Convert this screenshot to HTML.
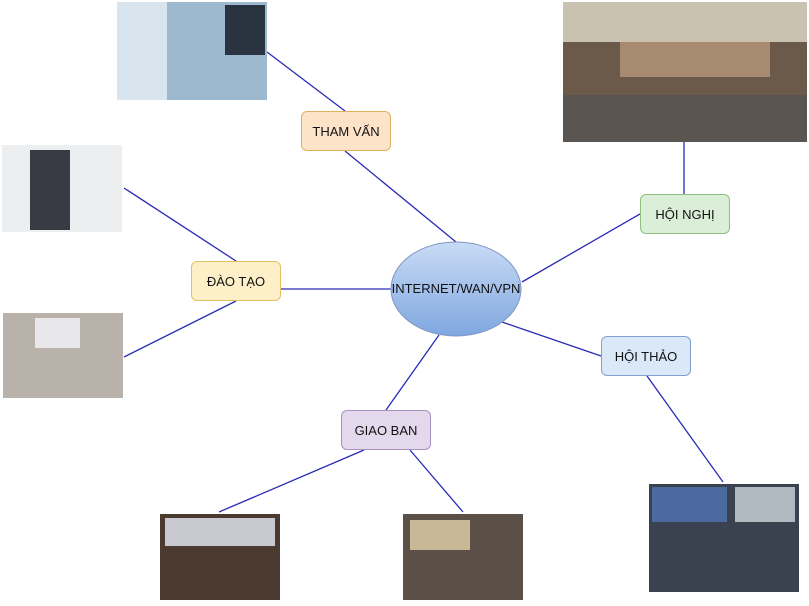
<!DOCTYPE html>
<html><head><meta charset="utf-8"><style>
body{margin:0;width:809px;height:606px;background:#fff;overflow:hidden;position:relative;font-family:"Liberation Sans",sans-serif}
.b{position:absolute;width:88px;height:38px;border-radius:6px;display:flex;align-items:center;justify-content:center;font-size:13px;color:#111}
</style></head><body>
<svg width="809" height="606" style="position:absolute;left:0;top:0">
<defs><linearGradient id="g" x1="0" y1="0" x2="0" y2="1"><stop offset="0" stop-color="#c9dbf5"/><stop offset="1" stop-color="#7fa7e0"/></linearGradient></defs>
<g stroke="#2a2ab8" stroke-width="1.3">
<line x1="267" y1="52" x2="345" y2="111"/><line x1="345" y1="151" x2="456" y2="242"/>
<line x1="684" y1="142" x2="684" y2="194"/><line x1="640" y1="214" x2="522" y2="282"/>
<line x1="124" y1="188" x2="236" y2="261"/><line x1="281" y1="289" x2="391" y2="289"/>
<line x1="124" y1="357" x2="236" y2="301"/><line x1="502" y1="322" x2="601" y2="356"/>
<line x1="647" y1="376" x2="723" y2="482"/><line x1="439" y1="335" x2="386" y2="410"/>
<line x1="364" y1="450" x2="219" y2="512"/><line x1="410" y1="450" x2="463" y2="512"/>
</g>
<ellipse cx="456" cy="289" rx="65" ry="47" fill="url(#g)" stroke="#7f95c0"/>
<text x="456" y="293" text-anchor="middle" font-size="13" font-family="Liberation Sans" fill="#111">INTERNET/WAN/VPN</text>
<rect x="117" y="2" width="150" height="98" fill="#9cb9d0"/><rect x="117" y="2" width="50" height="98" fill="#d8e4ee"/><rect x="225" y="5" width="40" height="50" fill="#2a3440"/>
<rect x="563" y="2" width="244" height="140" fill="#6b5a4a"/><rect x="563" y="2" width="244" height="40" fill="#c9c2b0"/><rect x="620" y="42" width="150" height="35" fill="#a88a70"/><rect x="563" y="95" width="244" height="47" fill="#5a5550"/>
<rect x="2" y="145" width="120" height="87" fill="#eceef0"/><rect x="30" y="150" width="40" height="80" fill="#3a3a44"/>
<rect x="3" y="313" width="120" height="85" fill="#b8b2aa"/><rect x="35" y="318" width="45" height="30" fill="#e8e8ea"/>
<rect x="160" y="514" width="120" height="86" fill="#4a3a30"/><rect x="165" y="518" width="110" height="28" fill="#c8c8d0"/>
<rect x="403" y="514" width="120" height="86" fill="#5a5048"/><rect x="410" y="520" width="60" height="30" fill="#c8b896"/>
<rect x="649" y="484" width="150" height="108" fill="#3a4250"/><rect x="652" y="487" width="75" height="35" fill="#4a6aa0"/><rect x="735" y="487" width="60" height="35" fill="#b0b8c0"/>
</svg>
<div class="b" style="left:301px;top:111px;background:#fde3c8;border:1px solid #e0b060">THAM VẤN</div>
<div class="b" style="left:640px;top:194px;background:#dbefd8;border:1px solid #90c080">HỘI NGHỊ</div>
<div class="b" style="left:191px;top:261px;background:#fdf0c8;border:1px solid #e0c060">ĐÀO TẠO</div>
<div class="b" style="left:601px;top:336px;background:#dbe8f8;border:1px solid #80a0d0">HỘI THẢO</div>
<div class="b" style="left:341px;top:410px;background:#e4d8ec;border:1px solid #a890c0">GIAO BAN</div>
</body></html>
